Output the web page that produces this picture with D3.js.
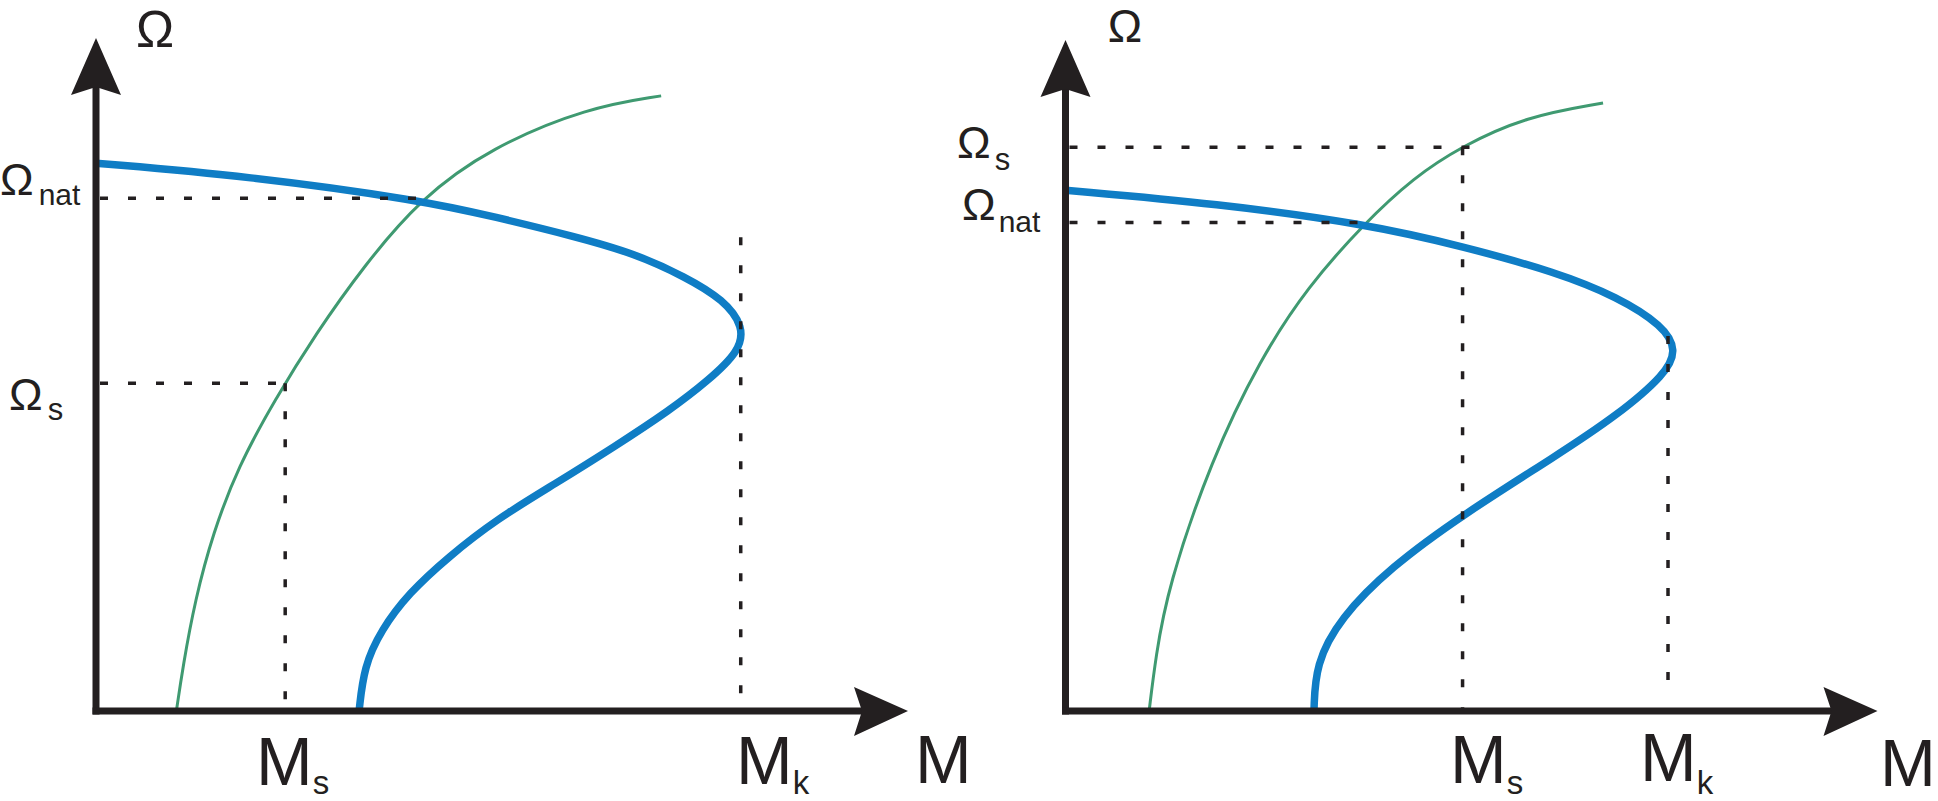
<!DOCTYPE html>
<html>
<head>
<meta charset="utf-8">
<script src="https://cdn.jsdelivr.net/npm/d3@7/dist/d3.min.js"></script>
<style>
  html, body { margin: 0; padding: 0; background: #ffffff; }
  svg { display: block; }
  text { font-family: "Liberation Sans", Arial, Helvetica, sans-serif; fill: #231f20; }
</style>
</head>
<body>
<svg id="chart" width="1938" height="801"></svg>
<script>
// ---- Data (M = torque, Ω = speed, in arbitrary units 0..100 along each axis) ----
// Left panel: motor characteristic (blue) and load characteristic (green)
const blueLeft = [
  [0, 81.4], [18.6, 79.5], [40.0, 75.9], [49.2, 73.4], [59.0, 70.5], [66.3, 68.0],
  [72.6, 64.5], [77.3, 61.1], [79.8, 57.1], [79.2, 53.4], [75.5, 49.2], [70.7, 44.7],
  [63.9, 39.3], [56.6, 33.8], [49.2, 28.4], [43.4, 22.9], [38.5, 17.5], [35.1, 12.0],
  [33.0, 6.6], [32.4, 0]
];
const greenLeft = [
  [9.9, 0], [10.7, 6.6], [12.2, 16.5], [14.4, 26.4], [17.5, 36.3], [22.0, 46.2],
  [27.1, 56.1], [32.9, 66.0], [40.0, 76.2], [48.6, 83.7], [60.6, 89.7], [69.6, 91.4]
];
// Right panel
const blueRight = [
  [0, 77.6], [18.7, 75.6], [36.9, 72.6], [49.1, 69.2], [60.4, 65.4], [68.0, 61.7],
  [73.6, 57.4], [75.3, 53.8], [73.9, 50.2], [68.0, 44.1], [60.4, 38.0], [49.1, 29.4],
  [40.0, 21.4], [33.8, 13.8], [30.8, 7.0], [30.6, 0]
];
const greenRight = [
  [10.3, 0], [11.1, 8.0], [12.6, 18.4], [17.9, 37.3], [24.0, 52.5], [29.8, 63.2],
  [36.9, 72.8], [42.9, 79.5], [48.7, 84.1], [56.7, 88.6], [66.2, 90.6]
];
// Guide (dashed) lines: [name, Ω level, M end of horizontal]  /  [name, M value, Ω top, Ω bottom]
const hGuidesLeft  = [["Ωnat", 76.2, 40.0], ["Ωs", 48.7, 23.3]];
const vGuidesLeft  = [["Ms", 23.3, 48.7, 0], ["Mk", 79.4, 70.4, 0]];
const hGuidesRight = [["Ωs", 84.0, 50.6], ["Ωnat", 72.8, 36.9]];
const vGuidesRight = [["Ms", 48.9, 84.0, 0], ["Mk", 74.2, 55.9, 2.8]];
// Axis / level labels: [main, subscript]
const labelsLeft  = [["Ω", ""], ["Ω", "nat"], ["Ω", "s"], ["M", "s"], ["M", "k"], ["M", ""]];
const labelsRight = [["Ω", ""], ["Ω", "s"], ["Ω", "nat"], ["M", "s"], ["M", "k"], ["M", ""]];

// ---- Drawing ----
const svg = d3.select("#chart");
const INK = "#231f20", BLUE = "#0f7dc5", GREEN = "#3f9a71";

function panel(opt) {
  const x = d3.scaleLinear().domain([0, 100]).range(opt.xr);
  const y = d3.scaleLinear().domain([0, 100]).range(opt.yr);
  const g = svg.append("g");
  const line = d3.line().x(d => x(d[0])).y(d => y(d[1])).curve(d3.curveBasis);

  g.append("path").datum(opt.green).attr("d", line)
    .attr("fill", "none").attr("stroke", GREEN).attr("stroke-width", 3);
  g.append("path").datum(opt.blue).attr("d", line)
    .attr("fill", "none").attr("stroke", BLUE).attr("stroke-width", 7.5);

  const dash = "8 20";
  opt.hGuides.forEach(h => {
    g.append("line").attr("x1", x(0) + 4).attr("x2", x(h[2]))
      .attr("y1", y(h[1])).attr("y2", y(h[1]))
      .attr("stroke", INK).attr("stroke-width", 3.5).attr("stroke-dasharray", dash);
  });
  opt.vGuides.forEach(v => {
    g.append("line").attr("x1", x(v[1])).attr("x2", x(v[1]))
      .attr("y1", y(v[2])).attr("y2", y(v[3]))
      .attr("stroke", INK).attr("stroke-width", 3.5).attr("stroke-dasharray", dash);
  });

  // axes
  const x0 = x(0), y0 = y(0), xt = x(100), yt = y(100);
  g.append("line").attr("x1", x0).attr("x2", x0).attr("y1", y0 + 3.5).attr("y2", yt + 40)
    .attr("stroke", INK).attr("stroke-width", 7);
  g.append("line").attr("x1", x0 - 3.5).attr("x2", xt - 40).attr("y1", y0).attr("y2", y0)
    .attr("stroke", INK).attr("stroke-width", 7);
  g.append("path")
    .attr("d", `M${x0},${yt} L${x0 + 25},${yt + 57} L${x0},${yt + 49} L${x0 - 25},${yt + 57} Z`)
    .attr("fill", INK);
  g.append("path")
    .attr("d", `M${xt},${y0} L${xt - 54},${y0 + 25} L${xt - 46},${y0} L${xt - 54},${y0 - 24} Z`)
    .attr("fill", INK);

  // labels
  opt.labels.forEach((lab, i) => {
    const p = opt.labelPos[i];
    const t = g.append("text").attr("x", p.x).attr("y", p.y)
      .attr("text-anchor", p.anchor || "start");
    t.append("tspan").attr("font-size", p.size).text(lab[0]);
    if (lab[1]) {
      t.append("tspan").attr("font-size", p.sub).attr("dx", p.dx).attr("dy", p.dy).text(lab[1]);
    }
  });
}

panel({
  xr: [96, 908], yr: [711, 38],
  blue: blueLeft, green: greenLeft, hGuides: hGuidesLeft, vGuides: vGuidesLeft,
  labels: labelsLeft,
  labelPos: [
    { x: 155, y: 47, size: 51, anchor: "middle" },
    { x: 0, y: 195, size: 45, sub: 30, dx: 5, dy: 10 },
    { x: 9, y: 410, size: 45, sub: 31, dx: 5, dy: 10 },
    { x: 256, y: 785, size: 68, sub: 33, dx: 0, dy: 9 },
    { x: 736, y: 784, size: 68, sub: 33, dx: 0, dy: 10 },
    { x: 915, y: 783, size: 68 }
  ]
});

panel({
  xr: [1065.5, 1877.5], yr: [711, 40],
  blue: blueRight, green: greenRight, hGuides: hGuidesRight, vGuides: vGuidesRight,
  labels: labelsRight,
  labelPos: [
    { x: 1125, y: 42, size: 46, anchor: "middle" },
    { x: 957, y: 158, size: 45, sub: 31, dx: 4, dy: 12 },
    { x: 962, y: 220, size: 45, sub: 30, dx: 3, dy: 12 },
    { x: 1450, y: 783, size: 68, sub: 33, dx: 0, dy: 11 },
    { x: 1640, y: 781, size: 68, sub: 33, dx: 0, dy: 13 },
    { x: 1880, y: 786, size: 67 }
  ]
});
</script>
</body>
</html>
